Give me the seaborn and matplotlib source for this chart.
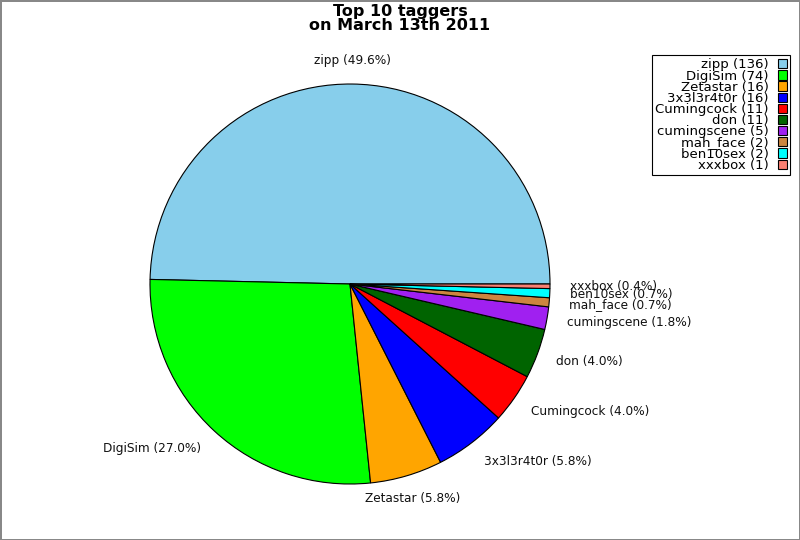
import numpy as np
import seaborn as sns
import matplotlib
matplotlib.use("Agg")
import matplotlib.pyplot as plt

# datos
taggers = ["zipp", "DigiSim", "Zetastar", "3x3l3r4t0r", "Cumingcock",
           "don", "cumingscene", "mah_face", "ben10sex", "xxxbox"]
counts = [136, 74, 16, 16, 11, 11, 5, 2, 2, 1]
colores = ["#87CEEB", "#00FF00", "#FFA500", "#0000FF", "#FF0000",
           "#006400", "#A020F0", "#CD853F", "#00FFFF", "#FA8072"]
titulo = "Top 10 taggers\non March 13th 2011"

sns.set_style("white")
plt.rcParams["font.family"] = ["DejaVu Sans"]
plt.rcParams["text.color"] = "black"

total = sum(counts)
labels_pie = ["%s (%.1f%%)" % (t, 100.0 * c / total) for t, c in zip(taggers, counts)]
labels_leg = ["%s (%d)" % (t, c) for t, c in zip(taggers, counts)]

fig = plt.figure(figsize=(8, 5.4), dpi=100, edgecolor="#888888", linewidth=1.0)
ax = fig.add_axes([0.1375, 0.0296, 0.6, 0.8889])

wedges, texts = ax.pie(counts, labels=labels_pie, colors=sns.color_palette(colores),
                       startangle=0, counterclock=True, labeldistance=1.1,
                       wedgeprops={"edgecolor": "black", "linewidth": 0.8},
                       textprops={"fontsize": 8.7, "color": "#111111"})
# las etiquetas quedan un poco más lejos en vertical
for w, t in zip(wedges, texts):
    ang = np.deg2rad((w.theta1 + w.theta2) / 2)
    t.set_position((1.1 * np.cos(ang), 1.12 * np.sin(ang)))
# zipp y Zetastar centrados como en el original
texts[0].set_ha("center")
texts[2].set_ha("center")

ax.set_xlim(-1.2, 1.2)
ax.set_ylim(-1.2, 1.2)
ax.set_aspect("equal")
ax.axis("off")

fig.text(0.5, 0.993, titulo, ha="center", va="top", fontsize=11.5,
         fontweight="bold", linespacing=0.95, color="black")

leg = fig.legend(wedges, labels_leg, loc="upper right",
                 bbox_to_anchor=(0.9875, 0.898), bbox_transform=fig.transFigure,
                 markerfirst=False, fontsize=9.5, labelspacing=-0.14,
                 handlelength=0.65, handleheight=0.7, handletextpad=0.7,
                 borderpad=0.25, borderaxespad=0, fancybox=False,
                 edgecolor="black", framealpha=1)
leg.get_frame().set_linewidth(0.8)
for t in leg.get_texts():
    t.set_ha("right")
    t.set_color("black")

fig.savefig("out.png", dpi=100, edgecolor=fig.get_edgecolor())
